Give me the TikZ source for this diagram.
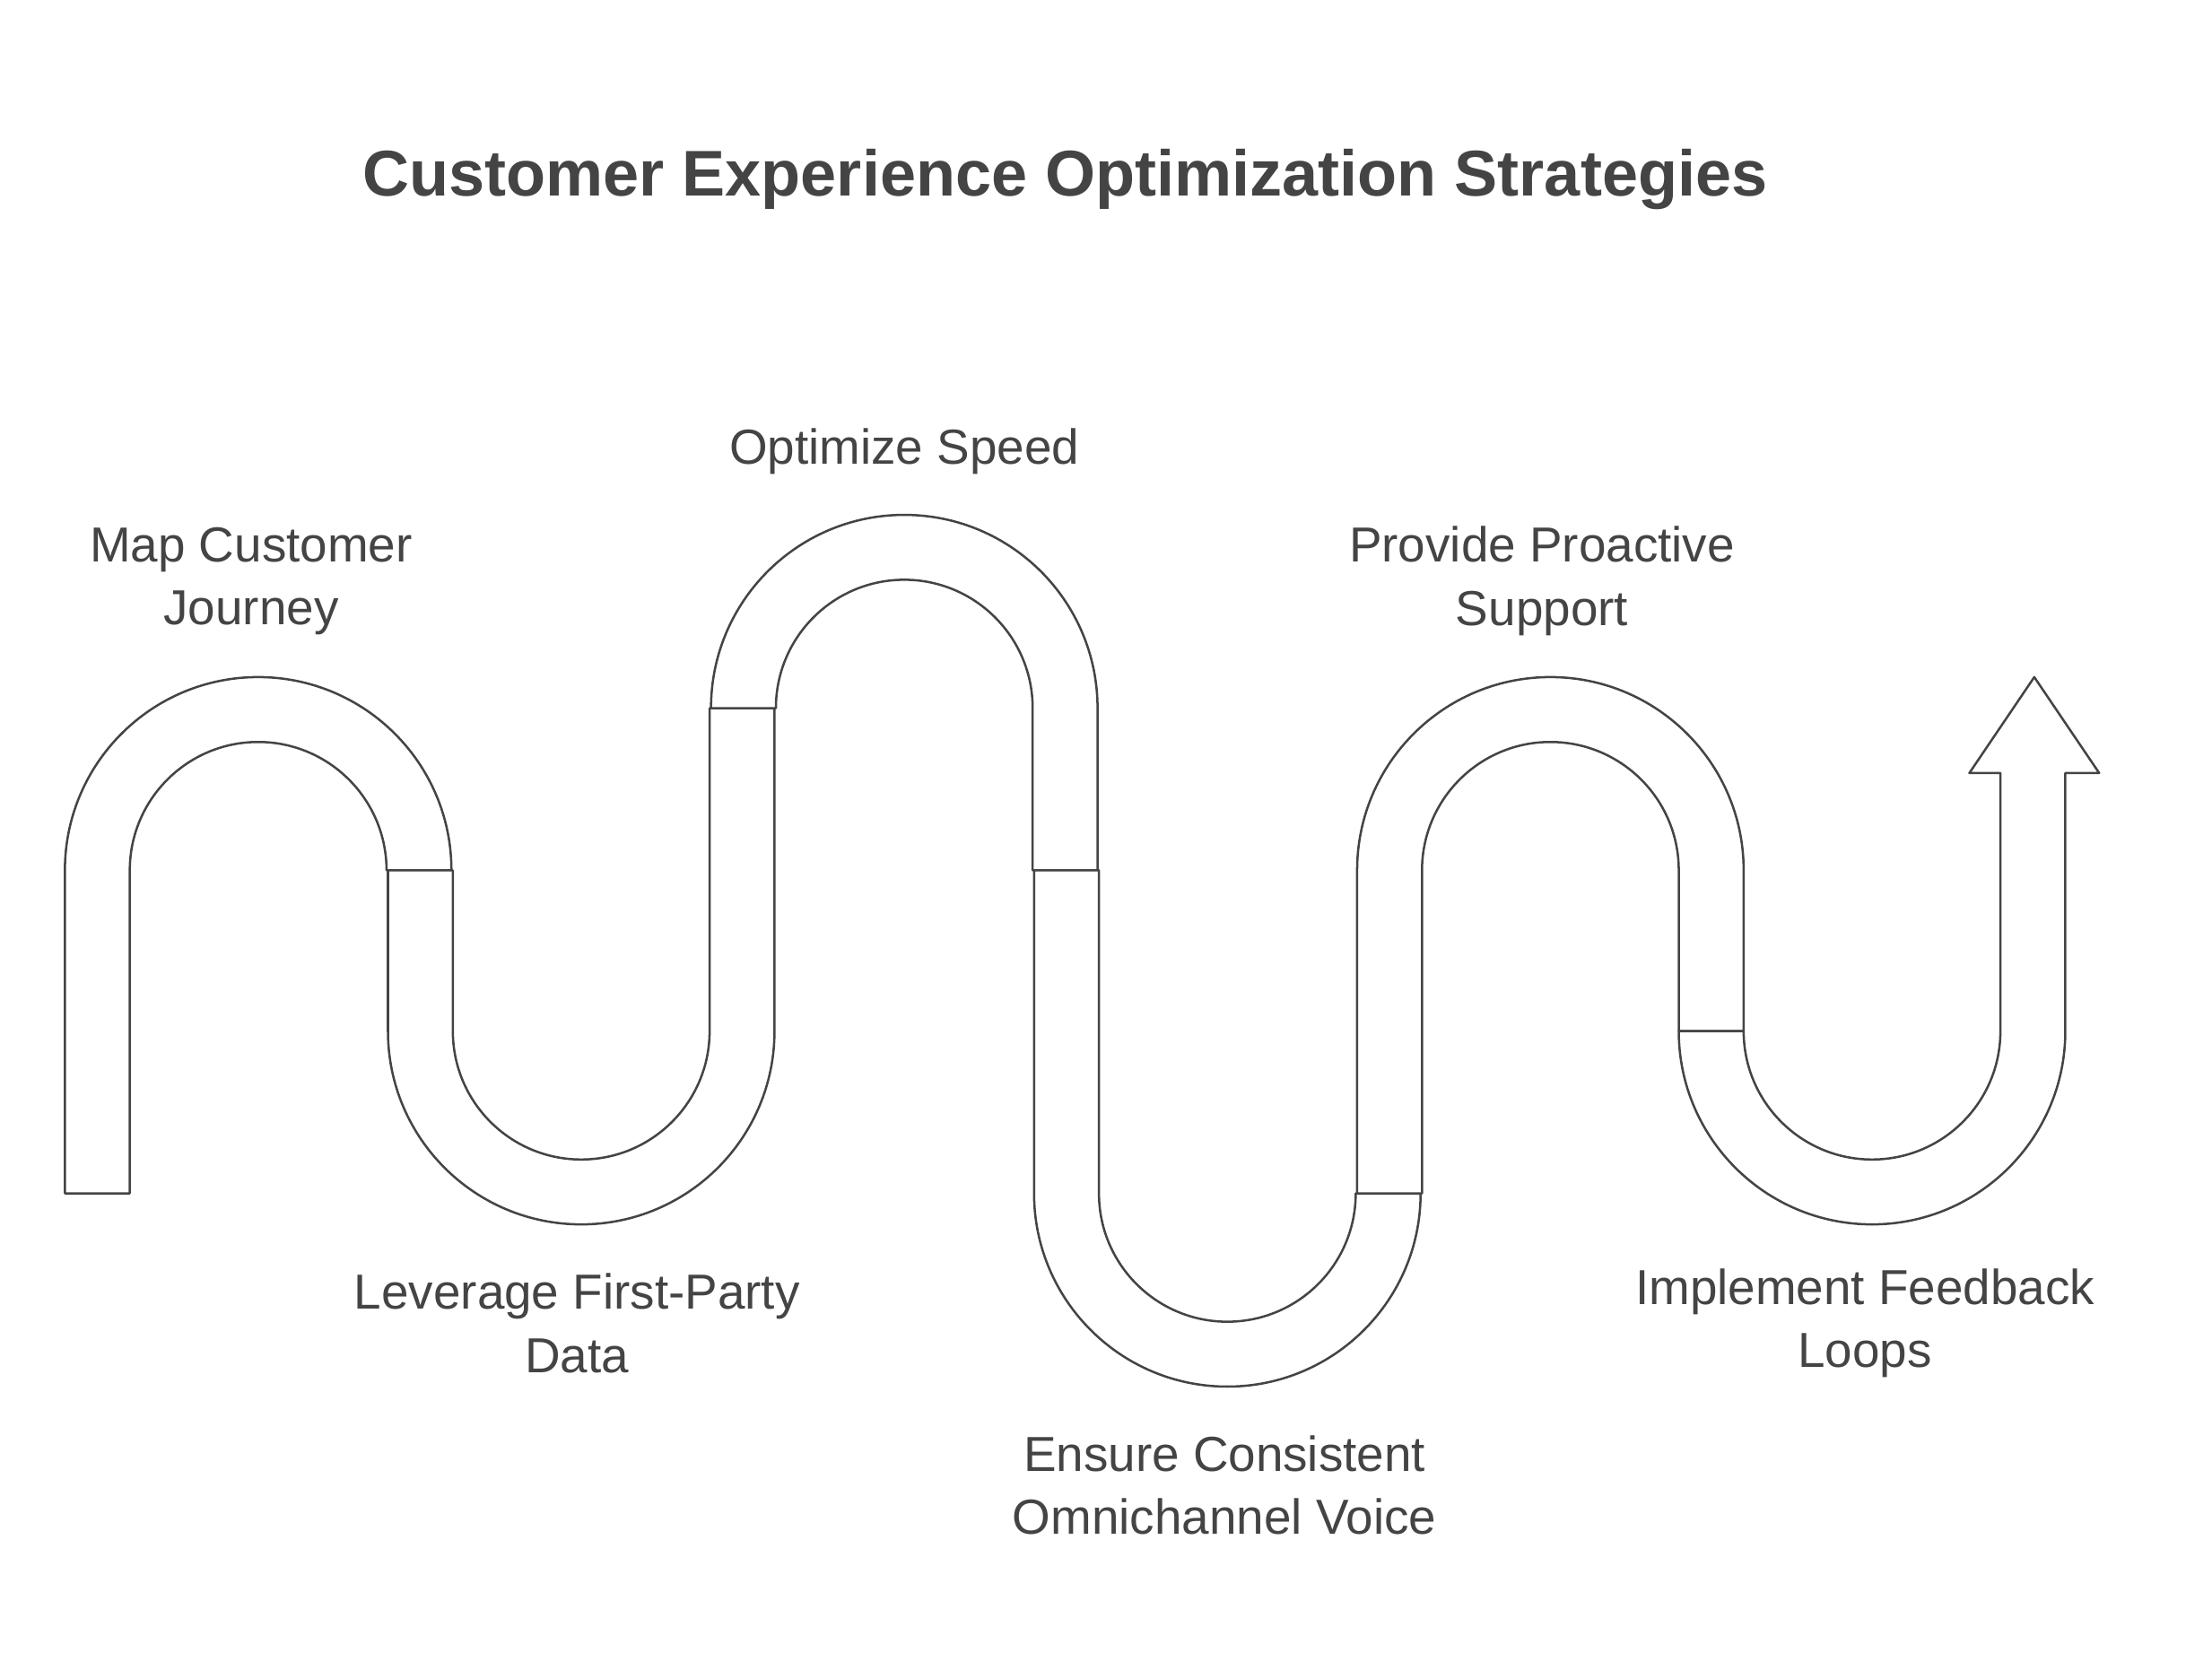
\documentclass[tikz,border=0pt]{standalone}
\usepackage{fontspec}
\setmainfont{Liberation Sans}
\definecolor{ink}{HTML}{444444}
\begin{document}
\begin{tikzpicture}[x=1bp,y=-1bp,
  band/.style={draw=ink,line width=1.6bp,fill=white,line join=round},
  lbl/.style={text=ink,align=center,font=\fontsize{35}{45}\selectfont}]
\useasboundingbox (0,0) rectangle (1568,1190);
\node[text=ink,font=\bfseries\fontsize{46}{55}\selectfont] (title) at (755,127) {Customer Experience Optimization Strategies};
% segment 1
\draw[band] (46,846) -- (46,617) arc[start angle=180,end angle=360,radius=137] -- (274,617) arc[start angle=0,end angle=-180,radius=91] -- (92,846) -- cycle;
% segment 2
\draw[band] (275,617) -- (275,731) arc[start angle=180,end angle=0,radius=137] -- (549,502) -- (503,502) -- (503,731) arc[start angle=0,end angle=180,radius=91] -- (321,617) -- cycle;
% segment 3
\draw[band] (504,502) arc[start angle=180,end angle=360,radius=137] -- (778,617) -- (732,617) -- (732,502) arc[start angle=0,end angle=-180,radius=91] -- cycle;
% segment 4
\draw[band] (733,617) -- (733,846) arc[start angle=180,end angle=0,radius=137] -- (1007,846) -- (961,846) arc[start angle=0,end angle=180,radius=91] -- (779,617) -- cycle;
% segment 5
\draw[band] (962,846) -- (962,617) arc[start angle=180,end angle=360,radius=137] -- (1236,731) -- (1190,731) -- (1190,617) arc[start angle=0,end angle=-180,radius=91] -- (1008,846) -- cycle;
% segment 6 with arrow
\draw[band] (1190,731) arc[start angle=180,end angle=0,radius=137] -- (1464,548) -- (1488,548) -- (1442,480) -- (1396,548) -- (1418,548) -- (1418,731) arc[start angle=0,end angle=180,radius=91] -- cycle;
\node[lbl] (l1) at (178,412) {Map Customer\\Journey};
\node[lbl] (l2) at (409,938) {Leverage First-Party\\Data};
\node[lbl] (l3) at (641,320) {Optimize Speed};
\node[lbl] (l4) at (868,1053) {Ensure Consistent\\Omnichannel Voice};
\node[lbl] (l5) at (1093,412) {Provide Proactive\\Support};
\node[lbl] (l6) at (1322,938) {Implement Feedback\\Loops};
\end{tikzpicture}
\end{document}
